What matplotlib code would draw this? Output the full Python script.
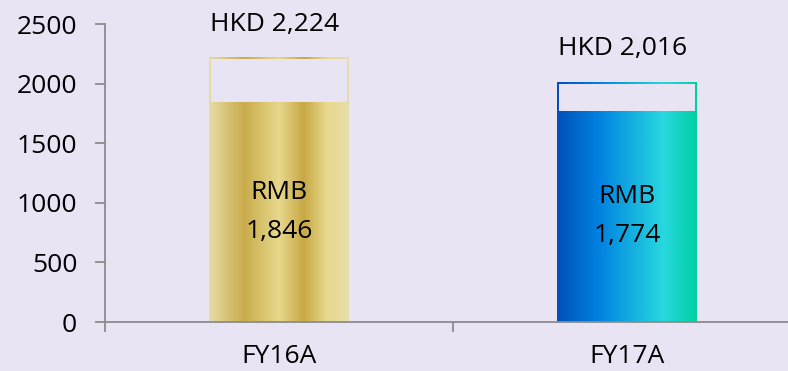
import matplotlib.pyplot as plt
import matplotlib.patches as mpatches
from matplotlib.colors import LinearSegmentedColormap
import numpy as np

plt.rcParams['font.family'] = ['Open Sans', 'DejaVu Sans']

categories = ['FY16A', 'FY17A']
rmb_values = [1846, 1774]
hkd_values = [2224, 2016]
y_ticks = [0, 500, 1000, 1500, 2000, 2500]

bg = '#E8E4F3'
gold = LinearSegmentedColormap.from_list('gold', [
    (0.0, '#E6DCA4'), (0.25, '#C9AC4C'), (0.5, '#E7D88C'),
    (0.68, '#C8A845'), (0.84, '#E8D98C'), (1.0, '#E6DDAA')])
blue = LinearSegmentedColormap.from_list('blue', [
    (0.0, '#0050B8'), (0.3, '#0082E0'), (0.76, '#28D8E0'), (1.0, '#00D0A0')])
cmaps = [gold, blue]

bar_w = 0.40

fig = plt.figure(figsize=(7.88, 3.71), dpi=100, facecolor=bg)
ax = fig.add_axes([105 / 788, 49 / 371, 696 / 788, 298 / 371])
ax.set_facecolor(bg)

xlim = (-0.5, 1.5)
ylim = (0, 2500)
px_x = (xlim[1] - xlim[0]) / 696.
px_y = (ylim[1] - ylim[0]) / 298.
grad = np.linspace(0, 1, 256)[None, :]

for i, (rmb, hkd, cm) in enumerate(zip(rmb_values, hkd_values, cmaps)):
    x0, x1 = i - bar_w / 2, i + bar_w / 2
    # gradient fills the whole HKD column, interior above RMB is knocked out
    clip = mpatches.Rectangle((x0, 0), bar_w, hkd, transform=ax.transData)
    im = ax.imshow(grad, cmap=cm, extent=[x0, x1, 0, hkd], aspect='auto',
                   interpolation='bilinear', zorder=2)
    im.set_clip_path(clip)
    t = 2
    ax.add_patch(mpatches.Rectangle((x0 + t * px_x, rmb), bar_w - 2 * t * px_x,
                                    hkd - rmb - t * px_y, facecolor=bg,
                                    edgecolor='none', zorder=3))
    ax.annotate(f'HKD {hkd:,}', (i, hkd), xytext=(-3, 19),
                textcoords='offset points', ha='center', va='baseline',
                fontsize=19, color='black', zorder=4)
    ax.text(i, rmb / 2, f'RMB\n{rmb:,}', ha='center', va='center',
            fontsize=19, linespacing=1.75, zorder=4)

ax.set_xlim(*xlim)
ax.set_ylim(*ylim)

for s in ['top', 'right']:
    ax.spines[s].set_visible(False)
for s in ['left', 'bottom']:
    ax.spines[s].set_color('#8C8C8C')
    ax.spines[s].set_linewidth(1.3)

ax.set_yticks(y_ticks)
ax.tick_params(axis='y', length=7, width=1.3, color='#8C8C8C',
               labelsize=19, pad=13)
ax.set_xticks(range(len(categories)))
ax.set_xticklabels(categories)
ax.set_xticks([-0.5, 0.5, 1.5], minor=True)
ax.tick_params(axis='x', which='major', length=0, labelsize=19, pad=16)
ax.tick_params(axis='x', which='minor', length=7, width=1.3, color='#8C8C8C')

fig.savefig('out.png', dpi=100, facecolor=bg)
